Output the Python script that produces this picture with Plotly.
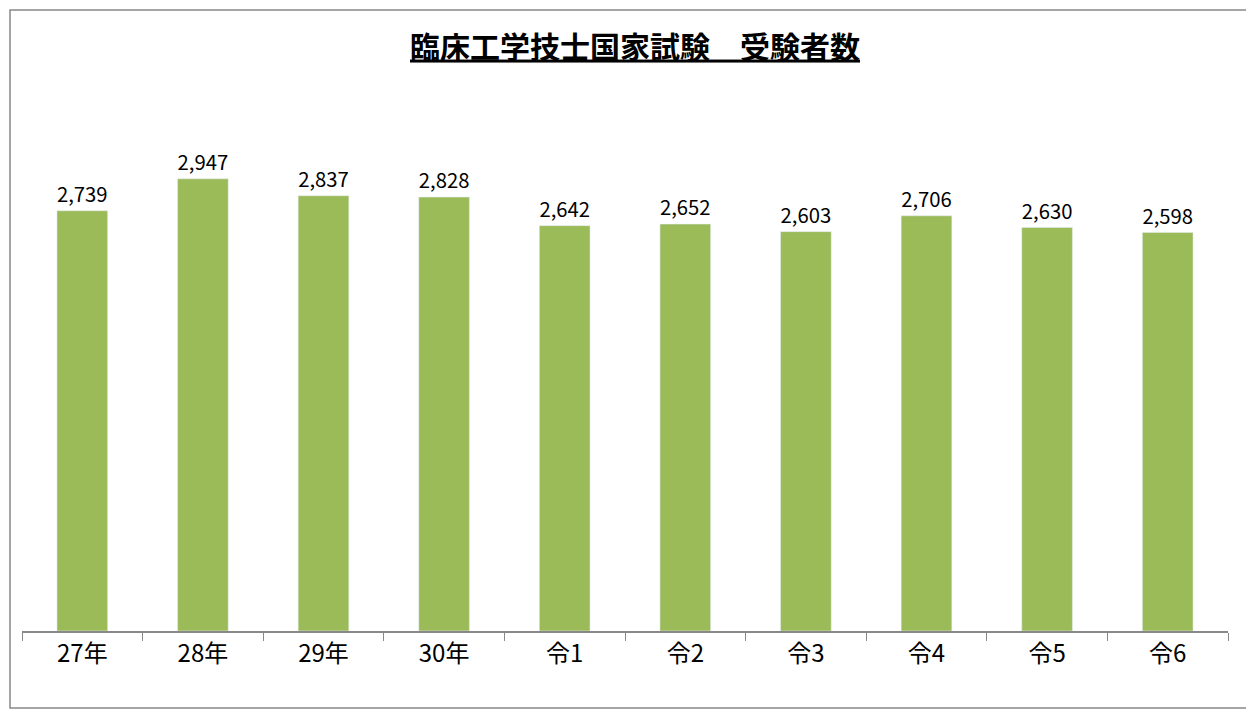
import plotly.graph_objects as go

# Data
years = ["27年", "28年", "29年", "30年", "令1", "令2", "令3", "令4", "令5", "令6"]
examinees = [2739, 2947, 2837, 2828, 2642, 2652, 2603, 2706, 2630, 2598]

font_family = "Noto Sans CJK JP"
ml, mr, mt, mb = 14, 34, 86, 87
pw, ph = 1254 - ml - mr, 710 - mt - mb

fig = go.Figure(go.Bar(
    x=years, y=examinees,
    marker_color="#9BBB59",
    text=[f"{v:,}" for v in examinees],
    textposition="outside",
    textfont=dict(size=25, color="black", family=font_family),
    cliponaxis=False,
))

fig.update_layout(
    width=1254, height=710,
    paper_bgcolor="white", plot_bgcolor="white",
    margin=dict(l=ml, r=mr, t=mt, b=mb),
    bargap=0.58,
    showlegend=False,
    title=dict(text="<u><b>臨床工学技士国家試験　受験者数</b></u>",
               x=0.5, xanchor="center", y=0.945, yanchor="middle",
               font=dict(size=30, color="black", family=font_family)),
    font=dict(family=font_family),
    shapes=[dict(type="rect", xref="paper", yref="paper",
                 x0=-(ml - 2) / pw, x1=1 + (mr - 10) / pw,
                 y0=-(mb - 10) / ph, y1=1 + (mt - 2) / ph,
                 line=dict(color="#888888", width=1.5))],
)
fig.update_xaxes(showline=True, linecolor="#888888", linewidth=1.5,
                 ticks="outside", tickson="boundaries", ticklen=8, tickcolor="#888888",
                 tickfont=dict(size=24, color="black", family=font_family))
fig.update_yaxes(range=[0, 3500], visible=False)

fig.write_html("out.html")
